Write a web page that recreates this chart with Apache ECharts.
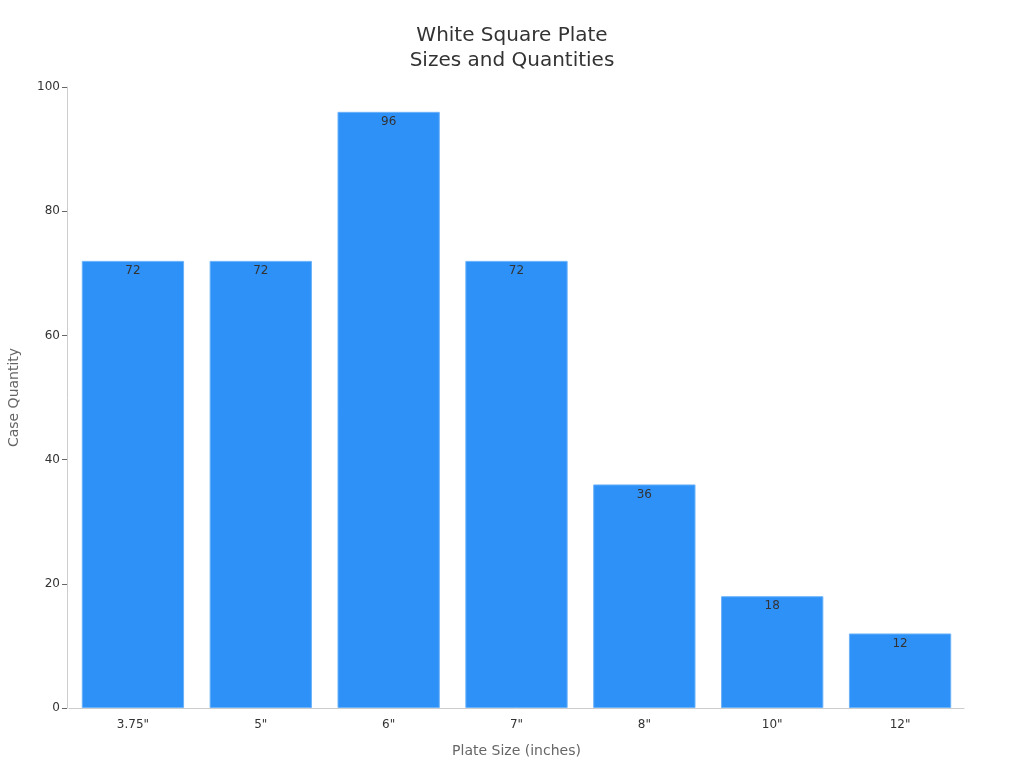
<!DOCTYPE html>
<html>
<head>
<meta charset="utf-8">
<script src="https://cdn.jsdelivr.net/npm/echarts@6/dist/echarts.min.js"></script>
<style>
  html, body { margin: 0; padding: 0; background: #fff; }
  #chart { width: 1024px; height: 768px; }
</style>
</head>
<body>
<div id="chart"></div>
<script>
var sizes = ['3.75"', '5"', '6"', '7"', '8"', '10"', '12"'];
var quantities = [72, 72, 96, 72, 36, 18, 12];

var chart = echarts.init(document.getElementById('chart'));
// plain bar chart, labels sit just inside the bar top
var option = {
    backgroundColor: '#ffffff',
    textStyle: { fontFamily: 'DejaVu Sans' },
    title: {
        text: 'White Square Plate\nSizes and Quantities',
        left: 'center',
        top: 18,
        textStyle: { fontSize: 20, fontWeight: 'normal', color: '#333', lineHeight: 25, fontFamily: 'DejaVu Sans' }
    },
    grid: { left: 69, right: 60, top: 87, bottom: 60, containLabel: false, outerBoundsMode: 'none' },
    xAxis: {
        type: 'category',
        data: sizes,
        name: 'Plate Size (inches)',
        nameLocation: 'middle',
        nameGap: 36,
        nameTextStyle: { fontSize: 14, color: '#666' },
        axisLine: { lineStyle: { color: '#ccc' } },
        axisTick: { alignWithLabel: true, lineStyle: { color: '#666' } },
        axisLabel: { fontSize: 12, color: '#333', margin: 11 },
        z: 3
    },
    yAxis: {
        type: 'value',
        min: 0,
        max: 100,
        interval: 20,
        offset: 2,
        name: 'Case Quantity',
        nameLocation: 'middle',
        nameGap: 46,
        nameTextStyle: { fontSize: 14, color: '#666' },
        axisLine: { show: true, lineStyle: { color: '#ccc' } },
        axisTick: { show: true, lineStyle: { color: '#666' } },
        axisLabel: { fontSize: 12, color: '#333', margin: 7 },
        splitLine: { show: false }
    },
    series: [{
        type: 'bar',
        data: quantities,
        barCategoryGap: '20%',
        itemStyle: { color: '#2e91f8', borderColor: '#6ab2fa', borderWidth: 1 },
        label: {
            show: true,
            position: 'insideTop',
            distance: 4,
            fontSize: 12,
            color: '#333'
        }
    }]
};
chart.setOption(option);
</script>
</body>
</html>
